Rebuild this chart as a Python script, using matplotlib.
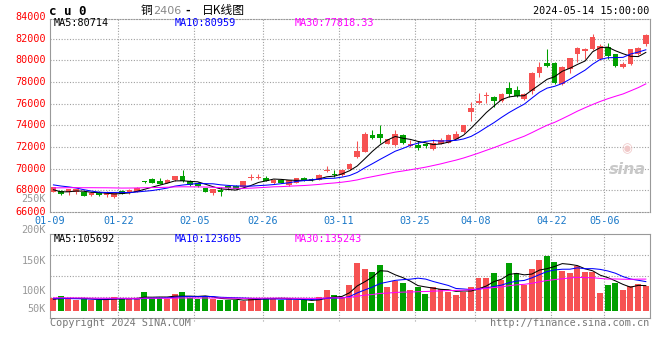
import numpy as np
import pandas as pd
import matplotlib
matplotlib.use('Agg')
import matplotlib.pyplot as plt

# daily candles (O, H, L, C), 2024-01-09 ...
opens = np.array([67890, 67950, 67890, 67860, 67890, 67550, 67890, 67550, 67340, 67920,
                  67740, 67860, 68800, 69030, 68880, 68720, 68910, 69340, 68850, 68700,
                  68200, 67740, 68050, 68410, 68410, 68350, 69180, 69180, 69090, 68660,
                  68970, 68480, 68700, 69180, 69050, 68970, 69800, 69490, 69440, 69930,
                  71070, 71535, 73080, 73170, 72310, 72150, 73080, 72090, 72150, 72310,
                  71780, 72310, 72400, 72770, 73390, 75240, 76010, 76660, 76600, 76240,
                  77450, 77270, 76390, 77150, 78820, 79730, 79730, 77760, 79180, 80600,
                  80850, 81000, 80090, 81240, 80545, 79394, 79636, 80545, 81515])
highs = np.array([68300, 68000, 68150, 68150, 67950, 67800, 67950, 67900, 67760, 68050,
                  68100, 68300, 68870, 69100, 69150, 69000, 69350, 69900, 68950, 68800,
                  68250, 68150, 68350, 68500, 68450, 68900, 69500, 69500, 69300, 69000,
                  69000, 68950, 69150, 69250, 69150, 69480, 70200, 69900, 69950, 70500,
                  72520, 73390, 73540, 74000, 72770, 73540, 73200, 72680, 72520, 72400,
                  72700, 72800, 73200, 73450, 74050, 76170, 76930, 77090, 76660, 76950,
                  77970, 77575, 77000, 78880, 79850, 81000, 79800, 79500, 80200, 81250,
                  81150, 82420, 81510, 81600, 80600, 79880, 81050, 81240, 82450])
lows = np.array([67850, 67600, 67550, 67700, 67450, 67500, 67500, 67370, 67250, 67650,
                 67700, 67800, 68700, 68700, 68550, 68680, 68880, 68750, 68420, 68350,
                 67850, 67600, 67430, 68150, 68100, 68300, 68980, 69000, 68850, 68600,
                 68650, 68400, 68650, 68880, 68900, 68950, 69650, 69260, 69350, 69850,
                 71000, 71500, 72710, 72400, 72250, 72100, 72250, 72000, 71690, 71900,
                 71700, 72250, 72350, 72700, 73300, 74370, 75920, 76010, 75640, 76150,
                 76600, 76600, 76300, 76910, 78420, 79330, 77850, 77670, 78790, 79790,
                 80090, 80900, 80000, 80090, 79330, 79300, 79550, 80450, 81300])
closes = np.array([68260, 67650, 68110, 68080, 67490, 67740, 67550, 67800, 67740, 67680,
                   68050, 68230, 68780, 68720, 68600, 68970, 69280, 68820, 68450, 68400,
                   67890, 68110, 67830, 68170, 68110, 68880, 69220, 69250, 68880, 68970,
                   68720, 68910, 69100, 68910, 68950, 69430, 69850, 69420, 69900, 70450,
                   71600, 73170, 72860, 72860, 72710, 73230, 72370, 72310, 71940, 72060,
                   72400, 72680, 73140, 73230, 74000, 75610, 76230, 76790, 76240, 76910,
                   76910, 76670, 76910, 78790, 79390, 79420, 77910, 79390, 80180, 81150,
                   81000, 82180, 81300, 80390, 79485, 79636, 81000, 81150, 82300])
volumes = np.array([55900, 61700, 51700, 47500, 49100, 44900, 47500, 51700, 57500, 51700,
                    51700, 51700, 78500, 55900, 55900, 51700, 70100, 78500, 55900, 50400,
                    61700, 49100, 47500, 44900, 44900, 42000, 55900, 55900, 55900, 51700,
                    47500, 51700, 44900, 44900, 33600, 58800, 88200, 67200, 58800, 110500,
                    201600, 176400, 163800, 193200, 100800, 126000, 117600, 88200, 100800, 72700,
                    100800, 92400, 79800, 67200, 79800, 100800, 138600, 138600, 159600, 130200,
                    201600, 159600, 107900, 176400, 214200, 231000, 205800, 168000, 160900, 187700,
                    163800, 163800, 75600, 110500, 118900, 89500, 105000, 114700, 105000])

# sessions before the window, only needed to start the moving averages
prior_closes = [67600, 67750, 67900, 67800, 67650, 67700, 67900, 68050, 68100, 67950,
                68000, 68200, 68300, 68250, 68400, 68350, 68500, 68600, 68450, 68400,
                68700, 68900, 69100, 69050, 69000, 68600, 68100, 67700, 67590]
prior_volumes = [52000, 61000, 58000, 55000, 63000, 57000, 54000, 60000, 56000, 59000,
                 53000, 58000, 62000, 55000, 57000, 54000, 58000, 56000, 60000, 52000,
                 56000, 52000, 55000, 53000, 54000, 50000, 46000, 49000, 47000]

tick_pos = [0, 9, 19, 28, 38, 48, 56, 66, 73]
tick_labels = ['01-09', '01-22', '02-05', '02-26', '03-11', '03-25', '04-08', '04-22', '05-06']
price_ticks = list(range(66000, 84001, 2000))

RED = '#f65252'
GREEN = '#00a000'
GRID = '#a0a0a0'
EDGE = '#999999'
BLUE_TXT = '#1a78c8'
MONO = 'DejaVu Sans Mono'
FS = 7.3
W, H = 660, 360


def box(l, t, r, b):
    return [l / W, 1 - b / H, (r - l) / W, (b - t) / H]


def ftxt(x, y, s, **kw):
    kw.setdefault('family', MONO)
    kw.setdefault('fontsize', FS)
    kw.setdefault('va', 'center')
    fig.text(x / W, 1 - y / H, s, **kw)


def ma(prior, vals, k):
    s = pd.Series(np.r_[prior, vals]).rolling(k).mean().values
    return s[-len(vals):]


fig = plt.figure(figsize=(6.6, 3.6), dpi=100, facecolor='white')
ax = fig.add_axes(box(50, 19, 650, 212))
axv = fig.add_axes(box(50, 234, 650, 318))

n = len(closes)
x = np.arange(n) + 0.45
up = closes >= opens
col = np.where(up, RED, GREEN)

# price panel
ax.vlines(x, lows, highs, colors=col, lw=0.75, zorder=3)
ax.bar(x, np.maximum(np.abs(closes - opens), 90), width=0.74,
       bottom=np.minimum(opens, closes), color=col, lw=0, zorder=3)
ax.plot(x, ma(prior_closes, closes, 5), color='black', lw=0.75, zorder=4)
ax.plot(x, ma(prior_closes, closes, 10), color='#0000ff', lw=0.75, zorder=4)
ax.plot(x, ma(prior_closes, closes, 30), color='#ff00ff', lw=0.75, zorder=4)

ax.set_xlim(0, n)
ax.set_ylim(66000, 83800)
ax.set_xticks([])
ax.set_yticks([])
ax.hlines(price_ticks[1:-1], 0, n, colors=GRID, lw=0.8, linestyles=(0, (1, 1.5)), zorder=1)
ax.vlines(tick_pos[1:], 0, 1, transform=ax.get_xaxis_transform(), colors=GRID,
          lw=0.8, linestyles=(0, (1, 1.5)), zorder=1)
for s in ax.spines.values():
    s.set_color(EDGE)
    s.set_linewidth(0.8)
ax.spines['top'].set_linestyle((0, (1, 1.5)))
ax.spines['bottom'].set_linestyle((0, (1, 1.5)))

for p in price_ticks:
    ax.text(-4 / 600, p, str(p), transform=ax.get_yaxis_transform(), ha='right',
            va='center', color='#ff0000', family=MONO, fontsize=FS, clip_on=False)
for p, lab in zip(tick_pos, tick_labels):
    ax.text(p, -9 / 193, lab, transform=ax.get_xaxis_transform(), ha='center',
            va='center', color=BLUE_TXT, family=MONO, fontsize=FS, clip_on=False)

# faint watermark
ax.text(0.962, 0.22, 'sina', transform=ax.transAxes, ha='center', va='center',
        color='#c8c8c8', fontsize=11.5, fontweight='bold', fontstyle='italic', family='DejaVu Sans')
ax.text(0.962, 0.33, '◉', transform=ax.transAxes, ha='center', va='center',
        color='#f0c8c8', fontsize=9, family='DejaVu Sans')

# volume panel
K = 4200
axv.bar(x - 0.03, volumes, width=0.78, color=col, lw=0, zorder=3)
axv.plot(x, ma(prior_volumes, volumes, 5), color='black', lw=0.75, zorder=4)
axv.plot(x, ma(prior_volumes, volumes, 10), color='#0000ff', lw=0.75, zorder=4)
axv.plot(x, ma(prior_volumes, volumes, 30), color='#ff00ff', lw=0.75, zorder=4)
axv.set_xlim(0, n)
axv.set_ylim(-7 * K, 77 * K)
axv.set_xticks([])
axv.set_yticks([])
axv.hlines([0.25, 0.5, 0.75], 0, 1, transform=axv.transAxes, colors=GRID, lw=0.8,
           linestyles=(0, (1, 1.5)), zorder=1)
axv.vlines(tick_pos[1:], -0.03, 1, transform=axv.get_xaxis_transform(), colors=GRID,
           lw=0.8, linestyles=(0, (1, 1.5)), zorder=1, clip_on=False)
for s in axv.spines.values():
    s.set_color(EDGE)
    s.set_linewidth(0.8)

# texts around the panels
ftxt(49, 11.5, 'c u 0', fontweight='bold', fontsize=9)
ftxt(141, 10.5, '铜', family=['Noto Sans CJK SC', 'DejaVu Sans'], fontsize=8.5)
ftxt(153, 10.5, '2406', family='DejaVu Sans', color='#888888', fontsize=8)
ftxt(185, 10.5, '-', family='DejaVu Sans', fontsize=8, fontweight='bold')
ftxt(202, 10.5, '日K线图', family=['Noto Sans CJK SC', 'DejaVu Sans'], fontsize=8.5)
ftxt(649, 11.5, '2024-05-14 15:00:00', ha='right')

ftxt(54, 23.5, 'MA5:80714', color='black')
ftxt(175, 23.5, 'MA10:80959', color='#0000ff')
ftxt(295, 23.5, 'MA30:77818.33', color='#ff00ff')
ftxt(54, 238.5, 'MA5:105692', color='black')
ftxt(175, 238.5, 'MA10:123605', color='#0000ff')
ftxt(295, 238.5, 'MA30:135243', color='#ff00ff')

for lab, yy in [('250K', 199.5), ('200K', 230.5), ('150K', 260.5), ('100K', 290.5), ('50K', 309.5)]:
    ftxt(46, yy, lab, ha='right', color='#999999')

ftxt(50, 323.5, 'Copyright 2024 SINA.COM', color='#777777')
ftxt(649, 323.5, 'http://finance.sina.com.cn', ha='right', color='#777777')

fig.savefig('out.png', dpi=100, facecolor='white')
